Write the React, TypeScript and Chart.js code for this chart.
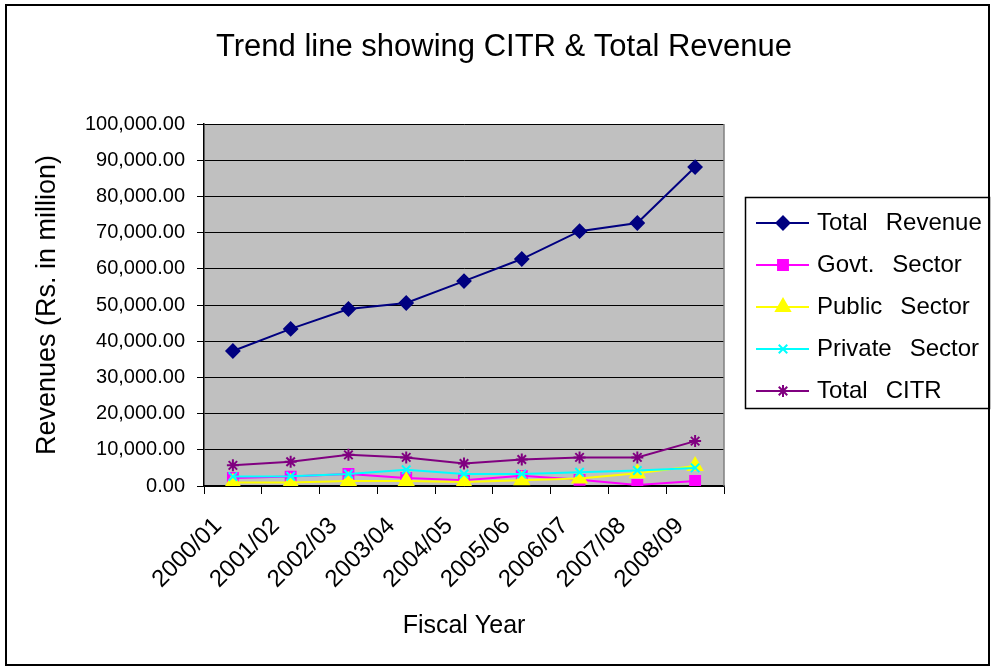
import React, { useEffect, useRef } from "react";
import { Chart, registerables } from "chart.js";
import { drawPoint } from "chart.js/helpers";

Chart.register(...registerables);

const chartTitle = "Trend line showing CITR & Total Revenue";
const xAxisTitle = "Fiscal Year";
const yAxisTitle = "Revenues (Rs. in million)";

const fiscalYears = ["2000/01", "2001/02", "2002/03", "2003/04", "2004/05", "2005/06", "2006/07", "2007/08", "2008/09"];

const totalRevenue = [37300, 43400, 48900, 50550, 56600, 62700, 70400, 72650, 88100];
const govtSector = [2200, 2600, 3300, 2200, 1600, 2800, 1700, 300, 1400];
const publicSector = [1000, 1000, 1400, 1400, 1100, 1600, 2100, 3500, 5500];
const privateSector = [2600, 2700, 3300, 4500, 3300, 3300, 3800, 4300, 5000];
const totalCITR = [5700, 6700, 8600, 7900, 6200, 7300, 7900, 7900, 12400];

const seriesNames = ["Total Revenue", "Govt. Sector", "Public Sector", "Private Sector", "Total CITR"];
const seriesColors = ["#000080", "#FF00FF", "#FFFF00", "#00FFFF", "#800080"];
const seriesMarkers = ["rectRot", "rect", "triangle", "crossRot", "star"];
const seriesRadius = [6.5, 7, 8, 6, 6];

const yMin = 0;
const yMax = 100000;
const yStep = 10000;

const FONT = "'Liberation Sans', Arial, Helvetica, sans-serif";

const decorPlugin = {
  id: "decor",
  beforeDraw(chart: any) {
    const { ctx, chartArea } = chart;
    ctx.save();
    ctx.fillStyle = "#ffffff";
    ctx.fillRect(0, 0, chart.width, chart.height);
    ctx.fillStyle = "#C0C0C0";
    ctx.fillRect(chartArea.left, chartArea.top, chartArea.right - chartArea.left, chartArea.bottom - chartArea.top);
    ctx.restore();
  },
  beforeDatasetsDraw(chart: any) {
    const { ctx, chartArea } = chart;
    ctx.save();
    ctx.strokeStyle = "#808080";
    ctx.lineWidth = 1.5;
    ctx.beginPath();
    ctx.moveTo(chartArea.right, chartArea.top);
    ctx.lineTo(chartArea.right, chartArea.bottom);
    ctx.stroke();
    ctx.restore();
  },
  afterDraw(chart: any) {
    const { ctx } = chart;
    ctx.save();
    // title
    ctx.fillStyle = "#000";
    ctx.font = `31px ${FONT}`;
    ctx.textAlign = "center";
    ctx.textBaseline = "middle";
    ctx.fillText(chartTitle, 504, 47);
    // outer border
    ctx.strokeStyle = "#000";
    ctx.lineWidth = 2;
    ctx.strokeRect(6, 5, 983, 660);
    // legend
    ctx.lineWidth = 1.5;
    ctx.strokeRect(745.5, 197.5, 244, 211);
    chart.data.datasets.forEach((ds: any, i: number) => {
      const y = 223 + 42 * i;
      ctx.strokeStyle = ds.borderColor;
      ctx.lineWidth = 2;
      ctx.beginPath();
      ctx.moveTo(756, y);
      ctx.lineTo(809, y);
      ctx.stroke();
      ctx.fillStyle = ds.backgroundColor;
      ctx.strokeStyle = ds.borderColor;
      drawPoint(ctx, { pointStyle: ds.pointStyle, radius: ds.pointRadius, borderWidth: 2, rotation: 0 } as any, 783, y);
      ctx.fillStyle = "#000";
      ctx.font = `24px ${FONT}`;
      ctx.textAlign = "left";
      ctx.textBaseline = "middle";
      const words = String(ds.label).split(" ");
      let x = 817;
      words.forEach((w) => {
        ctx.fillText(w, x, y);
        x += ctx.measureText(w).width + 18;
      });
    });
    ctx.restore();
  },
};

export default function App() {
  const ref = useRef<HTMLCanvasElement | null>(null);

  useEffect(() => {
    document.body.style.margin = "0";
    const series = [totalRevenue, govtSector, publicSector, privateSector, totalCITR];
    const chart = new Chart(ref.current as HTMLCanvasElement, {
      type: "line",
      data: {
        labels: fiscalYears,
        datasets: series.map((values, i) => ({
          label: seriesNames[i],
          data: values,
          borderColor: seriesColors[i],
          backgroundColor: seriesColors[i],
          pointBackgroundColor: seriesColors[i],
          pointBorderColor: seriesColors[i],
          pointStyle: seriesMarkers[i] as any,
          pointRadius: seriesRadius[i],
          pointBorderWidth: 2,
          borderWidth: 2,
          tension: 0,
          fill: false,
          order: series.length - 1 - i,
        })),
      },
      options: {
        animation: false,
        responsive: false,
        maintainAspectRatio: false,
        layout: { padding: { top: 124, left: 0, right: 268, bottom: 0 } },
        plugins: {
          legend: { display: false },
          title: { display: false },
          tooltip: { enabled: false },
        },
        scales: {
          x: {
            type: "category",
            offset: true,
            grid: {
              display: true,
              offset: true,
              drawOnChartArea: false,
              drawTicks: true,
              tickLength: 8,
              color: "#000",
              lineWidth: 1,
            },
            border: { display: true, color: "#000", width: 1.5 },
            ticks: {
              autoSkip: false,
              minRotation: 45,
              maxRotation: 45,
              padding: 18,
              labelOffset: -15,
              color: "#000",
              font: { family: FONT, size: 24 },
            },
            title: {
              display: true,
              text: xAxisTitle,
              color: "#000",
              font: { family: FONT, size: 25 },
              padding: { top: 0, bottom: 27 },
            },
            afterFit(scale: any) {
              scale.height = 182;
            },
          },
          y: {
            type: "linear",
            min: yMin,
            max: yMax,
            ticks: {
              stepSize: yStep,
              padding: 12,
              color: "#000",
              font: { family: FONT, size: 20 },
              callback: (v: any) =>
                Number(v).toLocaleString("en-US", { minimumFractionDigits: 2, maximumFractionDigits: 2 }),
            },
            grid: {
              color: "#000",
              lineWidth: 1,
              tickLength: 7,
              drawTicks: true,
            },
            border: { display: true, color: "#000", width: 1.5 },
            title: {
              display: true,
              text: yAxisTitle,
              color: "#000",
              font: { family: FONT, size: 27 },
              padding: { top: 31, bottom: 0 },
            },
            afterFit(scale: any) {
              scale.width = 204;
            },
          },
        },
      },
      plugins: [decorPlugin],
    });
    return () => chart.destroy();
  }, []);

  return (
    <div style={{ position: "absolute", left: 0, top: 0, width: 992, height: 668 }}>
      <canvas ref={ref} width={992} height={668} style={{ width: 992, height: 668, display: "block" }} />
    </div>
  );
}
